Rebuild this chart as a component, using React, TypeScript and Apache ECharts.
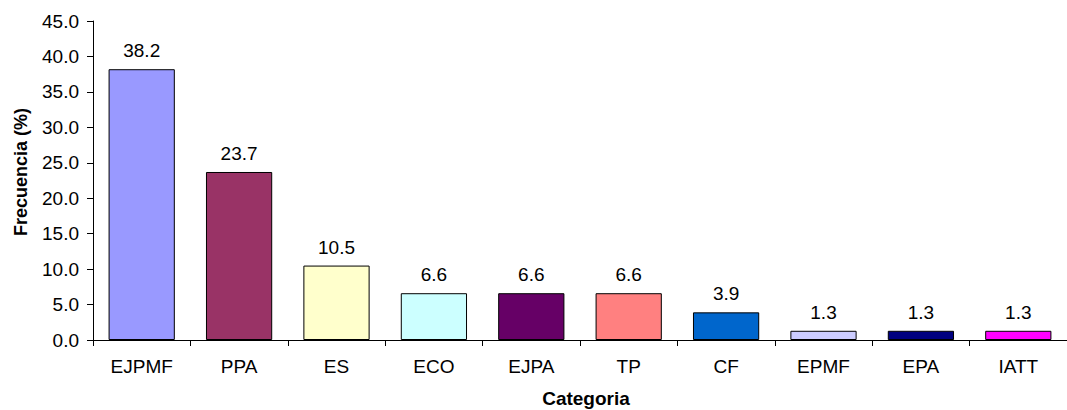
import React, { useEffect, useRef } from "react";
import * as echarts from "echarts";

const categories = ["EJPMF", "PPA", "ES", "ECO", "EJPA", "TP", "CF", "EPMF", "EPA", "IATT"];
const values = [38.2, 23.7, 10.5, 6.6, 6.6, 6.6, 3.9, 1.3, 1.3, 1.3];
const colors = ["#9999FF", "#993366", "#FFFFCC", "#CCFFFF", "#660066", "#FF8080", "#0066CC", "#CCCCFF", "#000080", "#FF00FF"];
const yTitle = "Frecuencia (%)";
const xTitle = "Categoria";

const FONT = "'Liberation Sans', Arial, sans-serif";

export default function App() {
  const ref = useRef<HTMLDivElement>(null);
  useEffect(() => {
    if (!ref.current) return;
    const chart = echarts.init(ref.current, null, { renderer: "svg" });
    chart.setOption({
      animation: false,
      backgroundColor: "#ffffff",
      grid: { left: 93, top: 21, bottom: 70, right: -13 },
      xAxis: {
        type: "category",
        data: categories,
        axisLine: { lineStyle: { color: "#000", width: 1 } },
        axisTick: { show: true, length: 6, lineStyle: { color: "#000" } },
        axisLabel: { color: "#000", fontSize: 19, fontFamily: FONT, margin: 17 },
      },
      yAxis: {
        type: "value",
        min: 0,
        max: 45,
        interval: 5,
        axisLine: { show: true, lineStyle: { color: "#000", width: 1 } },
        axisTick: { show: true, length: 6, lineStyle: { color: "#000" } },
        splitLine: { show: false },
        axisLabel: {
          color: "#000",
          fontSize: 19,
          fontFamily: FONT,
          margin: 14,
          formatter: (v: number) => v.toFixed(1),
        },
      },
      graphic: [
        {
          type: "text",
          x: 21,
          y: 172,
          rotation: Math.PI / 2,
          style: {
            text: yTitle,
            font: `bold 18px ${FONT}`,
            fill: "#000",
            textAlign: "center",
            textVerticalAlign: "middle",
          },
        },
        {
          type: "text",
          x: 586,
          y: 398,
          style: {
            text: xTitle,
            font: `bold 19px ${FONT}`,
            fill: "#000",
            textAlign: "center",
            textVerticalAlign: "middle",
          },
        },
      ],
      series: [
        {
          type: "bar",
          barCategoryGap: "32%",
          data: values.map((v, i) => ({
            value: v,
            itemStyle: { color: colors[i], borderColor: "#000", borderWidth: 1 },
          })),
          label: {
            show: true,
            position: "top",
            distance: 9,
            color: "#000",
            fontSize: 19,
            fontFamily: FONT,
            formatter: (p: any) => Number(p.value).toFixed(1),
          },
        },
      ],
    });
    return () => chart.dispose();
  }, []);
  return (
    <div
      ref={ref}
      style={{ position: "fixed", left: 0, top: 0, width: 1067, height: 410, background: "#fff" }}
    />
  );
}
